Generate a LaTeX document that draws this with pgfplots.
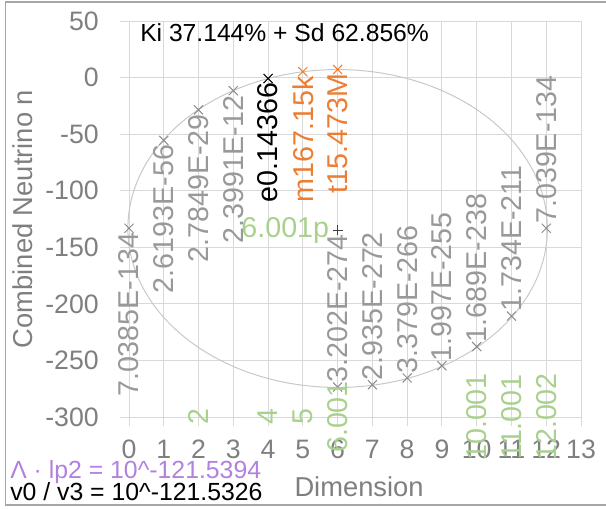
\documentclass[border=0pt]{standalone}
\usepackage{fontspec}
\setmainfont{Liberation Sans}
\usepackage{pgfplots}
\pgfplotsset{compat=1.18}
\definecolor{gridgray}{HTML}{D9D9D9}
\definecolor{tickgray}{HTML}{7F7F7F}
\definecolor{labelgray}{HTML}{999999}
\definecolor{markgray}{HTML}{8C8C8C}
\definecolor{exorange}{HTML}{ED7D31}
\definecolor{exgreen}{HTML}{A9D18E}
\definecolor{expurple}{HTML}{B180E0}
\definecolor{ellgray}{HTML}{C8C8C8}
\definecolor{bordergray}{HTML}{A6A6A6}
\newcommand{\tickfont}{\fontsize{20}{24}\selectfont}
\newcommand{\titlefont}{\fontsize{20.5}{24}\selectfont}
\newcommand{\datafont}{\fontsize{21.5}{25}\selectfont}
\begin{document}
\begin{tikzpicture}
\useasboundingbox (0,0) rectangle (454.5pt,381pt);
\draw[bordergray, line width=0.9pt] (454.5pt,379.5pt) -- (4.125pt,379.5pt) -- (4.125pt,2.25pt) -- (454.5pt,2.25pt);
\begin{axis}[
  at={(96.75pt,68.25pt)}, anchor=south west,
  scale only axis, width=339pt, height=297pt,
  xmin=0, xmax=13, ymin=-300, ymax=50,
  xtick={0,1,...,13}, ytick={-300,-250,...,50},
  grid=major, major grid style={gridgray, line width=0.75pt},
  axis line style={gridgray, line width=0.75pt},
  tick style={gridgray, line width=0.75pt},
  tick align=outside, major tick length=6.75pt, tick pos=left,
  /pgf/number format/assume math mode=true,
  ticklabel style={font=\tickfont, text=tickgray, inner sep=0pt},
  xticklabel style={anchor=base, yshift=-24.5pt},
  yticklabel style={anchor=east, xshift=-15.75pt},
  xlabel={Dimension}, ylabel={Combined Neutrino n},
  every axis x label/.style={at={(axis description cs:0.509,-0.202)}, anchor=base, font=\titlefont, text=tickgray, inner sep=0pt},
  every axis y label/.style={at={(axis description cs:-0.2124,0.5)}, rotate=90, anchor=base, font=\titlefont, text=tickgray, inner sep=0pt},
  clip=false,
  point meta=explicit symbolic,
]
\draw[ellgray, line width=0.75pt] (axis cs:6,-133.4) ellipse [x radius=157.3pt, y radius=119.2pt];
% upper gray points
\addplot[only marks, mark=x, mark size=4.8pt, color=markgray, mark options={line width=0.75pt},
  nodes near coords, every node near coord/.append style={rotate=90, anchor=east, text=labelgray, font=\datafont, inner sep=3pt}]
  coordinates {(0,-133.15) [7.0385E-134] (1,-55.58) [2.6193E-56] (2,-28.555) [2.7849E-29] (3,-11.62) [2.3991E-12]};
% black point
\addplot[only marks, mark=x, mark size=4.8pt, color=black, mark options={line width=0.75pt},
  nodes near coords, every node near coord/.append style={rotate=90, anchor=east, text=black, font=\datafont, inner sep=3pt}]
  coordinates {(4,-0.843) [e0.14366]};
% orange points
\addplot[only marks, mark=x, mark size=4.8pt, color=exorange, mark options={line width=0.75pt},
  nodes near coords, every node near coord/.append style={rotate=90, anchor=east, text=exorange, font=\datafont, inner sep=3pt}]
  coordinates {(5,5.223) [m167.15k] (6,7.19) [t15.473M]};
% lower gray points
\addplot[only marks, mark=x, mark size=4.8pt, color=markgray, mark options={line width=0.75pt},
  nodes near coords, every node near coord/.append style={rotate=90, anchor=west, text=labelgray, font=\datafont, inner sep=3pt}]
  coordinates {(6,-273.49) [3.202E-274] (7,-271.53) [2.935E-272] (8,-265.47) [3.379E-266] (9,-254.70) [1.997E-255] (10,-237.77) [1.689E-238] (11,-210.76) [1.734E-211] (12,-133.15) [7.039E-134]};
% plus point
\addplot[only marks, mark=+, mark size=3.75pt, color=black!75, mark options={line width=0.75pt},
  nodes near coords, every node near coord/.append style={anchor=east, text=exgreen, font=\datafont, inner sep=0pt, xshift=-6pt}]
  coordinates {(6,-135) [6.001p]};
% green bottom labels
\addplot[only marks, mark=none, draw=none,
  nodes near coords, every node near coord/.append style={rotate=90, anchor=center, text=exgreen, font=\datafont, inner sep=0pt}]
  coordinates {(2,-300) [2] (4,-300) [4] (5,-300) [5] (6,-300) [6.001] (10,-300) [10.001] (11,-300) [11.001] (12,-300) [12.002]};
\node[anchor=base west, inner sep=0pt, font=\fontsize{18.5}{22}\selectfont] at (rel axis cs:0.0243,0.947) {Ki 37.144\% + Sd 62.856\%};
\end{axis}
\node[anchor=base west, inner sep=0pt, font=\fontsize{18.6}{22}\selectfont, text=expurple] at (7.5pt,22.5pt) {Λ · lp2 = 10\textasciicircum-121.5394};
\node[anchor=base west, inner sep=0pt, font=\fontsize{18.6}{22}\selectfont] at (7.5pt,6pt) {v0 / v3 = 10\textasciicircum-121.5326};
\end{tikzpicture}
\end{document}
